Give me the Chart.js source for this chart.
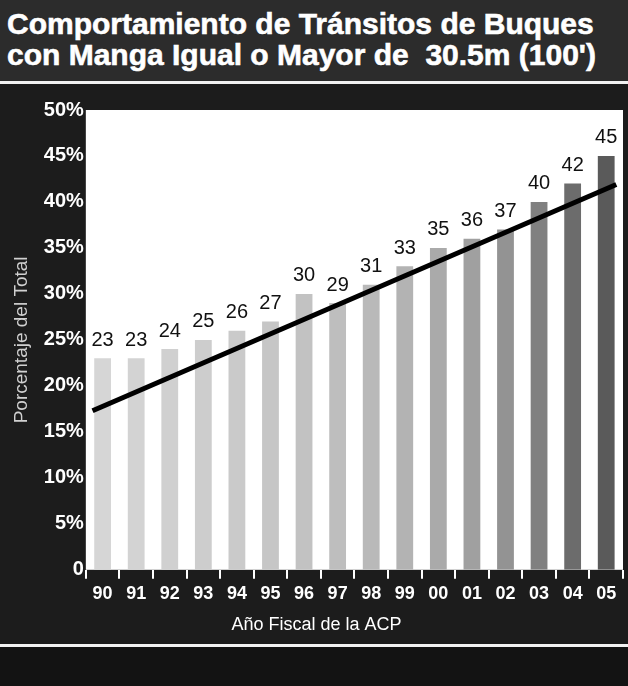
<!DOCTYPE html>
<html>
<head>
<meta charset="utf-8">
<script src="https://cdn.jsdelivr.net/npm/chart.js@4/dist/chart.umd.min.js"></script>
<style>
  html, body { margin: 0; padding: 0; background: #151515; }
  #wrap { width: 628px; height: 686px; overflow: hidden; background: #151515; }
  #head {
    height: 84px; box-sizing: border-box; background: #2c2c2c;
    border-bottom: 3px solid #f2f2f2; color: #fff;
    font: bold 30px "Liberation Sans", Arial, sans-serif; line-height: 31px;
    -webkit-text-stroke: 0.6px #fff;
    padding: 8px 0 0 7px; white-space: nowrap;
  }
  #plot { height: 560px; position: relative; background: #1c1c1c; }
  #foot { height: 42px; box-sizing: border-box; border-top: 3px solid #f2f2f2; background: #131313; }
</style>
</head>
<body>
<div id="wrap">
  <div id="head">Comportamiento de Tránsitos de Buques<br>con Manga Igual o Mayor de&nbsp; 30.5m (100')</div>
  <div id="plot"><canvas id="chart"></canvas></div>
  <div id="foot"></div>
</div>
<script>
const anios = ['90', '91', '92', '93', '94', '95', '96', '97', '98', '99', '00', '01', '02', '03', '04', '05'];
const porcentaje = [23, 23, 24, 25, 26, 27, 30, 29, 31, 33, 35, 36, 37, 40, 42, 45];
// recta de tendencia, en posiciones de categoria (0 = '90')
const tendenciaX = [-0.3, 15.3];
const tendenciaY = [17.3, 41.9];
const grisBarras = [
    '#d6d6d6', '#d3d3d3', '#d0d0d0', '#cdcdcd', '#cacaca', '#c6c6c6', '#c2c2c2', '#bebebe',
    '#b9b9b9', '#b3b3b3', '#aaaaaa', '#a0a0a0', '#939393', '#808080', '#6c6c6c', '#5a5a5a',
];

Chart.defaults.font.family = '"Liberation Sans", Arial, sans-serif';

const fondoBlanco = {
    id: 'fondoBlanco',
    beforeDraw(chart) {
        const { ctx, chartArea } = chart;
        ctx.save();
        ctx.fillStyle = '#ffffff';
        ctx.fillRect(chartArea.left, chartArea.top, chartArea.right - chartArea.left, chartArea.bottom - chartArea.top);
        ctx.restore();
    },
};

// linea de tendencia, con las escalas del grafico
const tendencia = {
    id: 'tendencia',
    afterDatasetsDraw(chart) {
        const { ctx, scales } = chart;
        const x0 = scales.x.getPixelForValue(0);
        const paso = scales.x.getPixelForValue(1) - x0;
        ctx.save();
        ctx.strokeStyle = '#000';
        ctx.lineWidth = 5;
        ctx.beginPath();
        tendenciaX.forEach((v, i) => {
            const px = x0 + v * paso;
            const py = scales.y.getPixelForValue(tendenciaY[i]);
            if (i === 0) ctx.moveTo(px, py);
            else ctx.lineTo(px, py);
        });
        ctx.stroke();
        ctx.restore();
    },
};

const etiquetas = {
    id: 'etiquetas',
    afterDatasetsDraw(chart) {
        const ctx = chart.ctx;
        const meta = chart.getDatasetMeta(0);
        ctx.save();
        ctx.fillStyle = '#111';
        ctx.font = '20px "Liberation Sans", Arial, sans-serif';
        ctx.textAlign = 'center';
        ctx.textBaseline = 'bottom';
        meta.data.forEach((bar, i) => {
            ctx.fillText(String(porcentaje[i]), bar.x, bar.y - 8);
        });
        ctx.restore();
    },
};

new Chart(document.getElementById('chart'), {
    type: 'bar',
    data: {
        labels: anios,
        datasets: [
            {
                data: porcentaje,
                backgroundColor: grisBarras,
                barPercentage: 0.5,
                categoryPercentage: 1.0,
            },
        ],
    },
    options: {
        responsive: true,
        maintainAspectRatio: false,
        animation: false,
        layout: { padding: { top: 26, right: 5, left: 10, bottom: 8 } },
        plugins: {
            legend: { display: false },
            tooltip: { enabled: false },
            title: {
                display: true,
                position: 'bottom',
                text: 'Año Fiscal de la ACP',
                color: '#fff',
                font: { size: 18, weight: 'normal' },
                padding: { top: 6, bottom: 0 },
            },
        },
        scales: {
            x: {
                grid: { display: true, drawOnChartArea: false, drawTicks: true, tickLength: 9, color: '#fff', lineWidth: 2, offset: true },
                border: { display: false },
                ticks: { color: '#fff', font: { size: 18, weight: 'bold' }, padding: 4, maxRotation: 0 },
            },
            y: {
                min: 0,
                max: 50,
                grid: { display: false, drawTicks: false },
                border: { display: false },
                ticks: {
                    stepSize: 5,
                    color: '#fff',
                    font: { size: 20, weight: 'bold' },
                    padding: 2,
                    callback: (v) => (v === 0 ? '0' : v + '%'),
                },
                title: { display: true, text: 'Porcentaje del Total', color: '#d0d0d0', font: { size: 19 }, padding: { top: 0, bottom: 9 } },
            },
        },
    },
    plugins: [fondoBlanco, tendencia, etiquetas],
});
</script>
</body>
</html>
